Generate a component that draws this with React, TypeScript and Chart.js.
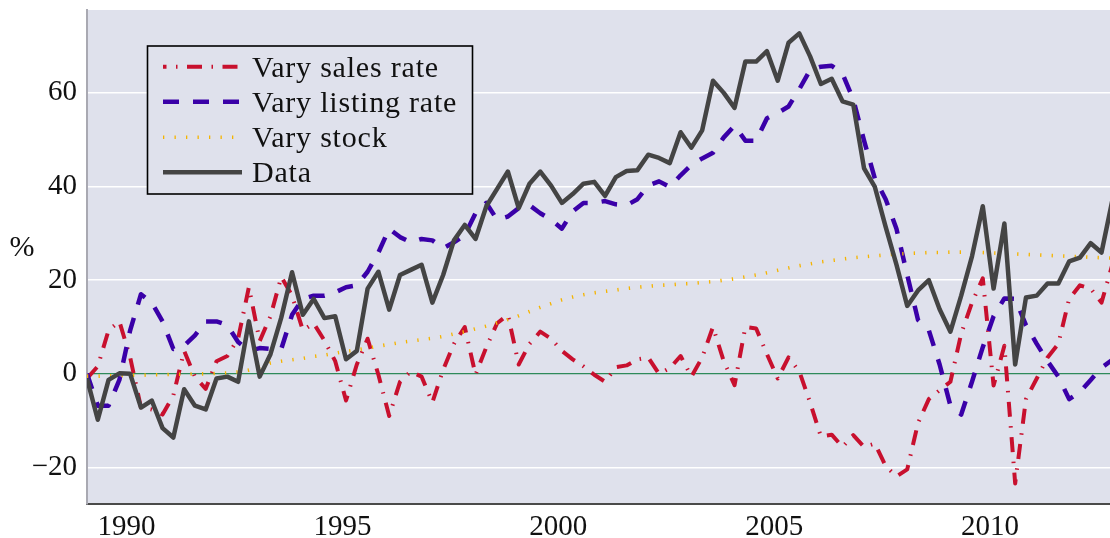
import { useEffect, useRef } from 'react';
import { Chart, registerables } from 'chart.js';
Chart.register(...registerables);

const FIRST_YEAR = 1989;
const LAST_YEAR = 2012;
const xTickYears = [1990, 1995, 2000, 2005, 2010];
const yTickValues = [-20, 0, 20, 40, 60];
const seriesLabels = ['Vary sales rate', 'Vary listing rate', 'Vary stock', 'Data'];

// quarterly values, one row per year (Q1..Q4)
const salesRate = [
  -1, 1.6, 9.3, 11.2,
  3.5, -7.2, -7.6, -8.7,
  -4.6, 4.9, -0.6, -3.2,
  2.7, 3.8, 7.5, 18.5,
  7, 12.3, 20.7, 16.7,
  9.3, 10.8, 7.1, 2.7,
  -5.7, 2, 7.5, -0.2,
  -9, -1.7, 0.5, -0.6,
  -6.1, 0.9, 6.4, 10,
  -0.2, 5.7, 10.8, 12.6,
  2, 6.4, 9, 7.5,
  4.9, 3.1, 1.6, -0.2,
  -1.7, 1.4, 1.8, 3.1,
  3.5, 0, 1.2, 3.8,
  -0.6, 3.5, 10, 2.7,
  -2.4, 10, 9.7, 4.2,
  -1, 3.5, 0.5, -6.1,
  -13.4, -13, -15.6, -13.1,
  -15.6, -14.9, -19.7, -21.9,
  -20.4, -10.5, -5.4, -3.5,
  -1.7, 8.6, 15.2, 20.4,
  -2.5, 6, -23.4, -5.4,
  -1, 3.5, 6.4, 16,
  18.9, 18.2, 15.2, 23.3,
];

const listingRate = [
  0, -6.8, -6.8, -1.3,
  9.3, 17, 15.2, 11.2,
  5.3, 6, 8.2, 11.2,
  11.2, 10.4, 6.8, 4.9,
  5.5, 5.3, 5.3, 12.6,
  16, 16.7, 16.7, 17.4,
  18.5, 18.9, 21.8, 25.9,
  31, 29.2, 28.1, 28.8,
  28.5, 26.8, 28.1, 29.6,
  34.3, 36.5, 32.9, 33.6,
  35.4, 36, 34.3, 32.9,
  31, 34.7, 36.5, 36.5,
  36.9, 36.2, 36, 37.3,
  40.2, 41.1, 39.9, 42.4,
  44.6, 46, 47.2, 50.5,
  53, 49.8, 49.8, 54.6,
  55.7, 57.1, 60.8, 64.9,
  65.6, 65.8, 64.1, 58.6,
  49.8, 41.7, 37.3, 31,
  21.1, 11.5, 9.3, 2,
  -6.8, -8.7, -1.7, 5.7,
  12.3, 16.1, 16, 10.4,
  6.4, 2.7, -0.6, -5.4,
  -3.9, -1.3, 1.3, 3,
];

const stock = [
  -0.5, -0.5, -0.4, -0.4,
  -0.3, -0.3, -0.2, -0.2,
  -0.1, -0.1, 0, 0,
  0.1, 0.2, 0.4, 0.8,
  1.5, 2.3, 2.7, 3.0,
  3.3, 3.7, 4.0, 4.4,
  4.8, 5.1, 5.5, 5.9,
  6.3, 6.7, 7.0, 7.3,
  7.6, 8.0, 8.5, 9.0,
  9.6, 10.2, 10.9, 11.6,
  12.4, 13.3, 14.2, 15.0,
  15.8, 16.4, 16.9, 17.3,
  17.6, 17.9, 18.2, 18.5,
  18.7, 18.9, 19.0, 19.2,
  19.3, 19.5, 19.7, 20.0,
  20.3, 20.7, 21.1, 21.6,
  22.1, 22.6, 23.1, 23.5,
  23.9, 24.2, 24.5, 24.8,
  25.0, 25.2, 25.4, 25.6,
  25.7, 25.8, 25.9, 25.9,
  26.0, 26.0, 26.0, 25.9,
  25.8, 25.7, 25.6, 25.5,
  25.4, 25.3, 25.2, 25.1,
  25.0, 24.9, 24.8, 24.7,
];

const observed = [
  -1, -9.8, -1.3, 0.1,
  0, -7.2, -5.7, -11.6,
  -13.6, -3.3, -6.8, -7.6,
  -1, -0.6, -1.7, 11.2,
  -0.6, 4.2, 12, 21.7,
  12.6, 16, 11.9, 12.3,
  3.1, 4.9, 18.2, 21.8,
  13.7, 21.1, 22.2, 23.3,
  15.2, 21.1, 28.5, 31.8,
  28.8, 35.8, 39.5, 43.2,
  35.4, 40.6, 43.2, 40.2,
  36.5, 38.4, 40.6, 41,
  38, 42, 43.3, 43.5,
  46.8, 46.1, 45, 51.6,
  48.3, 52, 62.6, 60,
  56.8, 66.7, 66.7, 68.9,
  62.6, 70.7, 72.7, 67.8,
  61.9, 63, 58.2, 57.5,
  43.9, 39.9, 31.4, 23.3,
  14.5, 17.8, 20, 13.8,
  9, 16.7, 25.1, 35.8,
  18.2, 32.1, 2, 16.3,
  16.7, 19.3, 19.3, 24,
  24.8, 27.9, 25.9, 37,
];

// mid-quarter dates (Feb, May, Aug, Nov)
const quarterDates = Array.from({ length: (LAST_YEAR - FIRST_YEAR + 1) * 4 }, (_, i) => FIRST_YEAR + 1 / 12 + i / 4);

const FONT = "'Liberation Serif', 'Times New Roman', serif";
const BG = '#dfe1ec';
const RED = '#c8102e';
const BLUE = '#3a00a8';
const ORANGE = '#f5b400';
const GRAY = '#444444';

const styles = [
  { color: RED, width: 4, dash: [15, 9.5, 1.5, 9.5] },
  { color: BLUE, width: 4.5, dash: [16, 14] },
  { color: ORANGE, width: 3.6, dash: [1.3, 10.2] },
  { color: GRAY, width: 4.5, dash: [] as number[] },
];

const seriesValues = [salesRate, listingRate, stock, observed];

const bgPlugin = {
  id: 'plotBg',
  beforeDraw(chart: any) {
    const { ctx, chartArea } = chart;
    ctx.save();
    ctx.fillStyle = BG;
    ctx.fillRect(chartArea.left, chartArea.top, chartArea.right - chartArea.left, chartArea.bottom - chartArea.top);
    ctx.restore();
  },
};

const legendPlugin = {
  id: 'boxLegend',
  afterDatasetsDraw(chart: any) {
    const { ctx } = chart;
    const x0 = 147.5, y0 = 46, w = 325, h = 148;
    ctx.save();
    ctx.fillStyle = BG;
    ctx.fillRect(x0, y0, w, h);
    ctx.strokeStyle = '#000';
    ctx.lineWidth = 1.6;
    ctx.strokeRect(x0, y0, w, h);
    const rows = [66.7, 101.7, 137.3, 172.3];
    seriesLabels.forEach((label, i) => {
      const s = styles[i];
      ctx.beginPath();
      ctx.strokeStyle = s.color;
      ctx.lineWidth = s.width;
      ctx.lineCap = 'butt';
      ctx.setLineDash(s.dash);
      ctx.lineDashOffset = i === 0 ? 11.5 : 0;
      ctx.moveTo(163, rows[i]);
      ctx.lineTo(242, rows[i]);
      ctx.stroke();
      ctx.setLineDash([]);
      ctx.fillStyle = '#111';
      ctx.font = `30px ${FONT}`;
      (ctx as any).letterSpacing = '0.8px';
      ctx.textAlign = 'left';
      ctx.textBaseline = 'alphabetic';
      ctx.fillText(label, 252, rows[i] + 10);
      (ctx as any).letterSpacing = '0px';
    });
    ctx.restore();
  },
};

const percentPlugin = {
  id: 'percentLabel',
  afterDraw(chart: any) {
    const { ctx } = chart;
    ctx.save();
    ctx.fillStyle = '#111';
    ctx.font = `30px ${FONT}`;
    ctx.textAlign = 'center';
    ctx.textBaseline = 'middle';
    ctx.fillText('%', 22, 248);
    ctx.restore();
  },
};

export default function App() {
  const ref = useRef<HTMLCanvasElement | null>(null);
  useEffect(() => {
    if (!ref.current) return;
    const chart = new Chart(ref.current, {
      type: 'line',
      data: {
        datasets: seriesLabels.map((label, i) => ({
          label,
          data: quarterDates.map((x, j) => ({ x, y: seriesValues[i][j] })),
          borderColor: styles[i].color,
          borderWidth: styles[i].width,
          borderDash: styles[i].dash,
          borderCapStyle: 'butt',
          borderJoinStyle: 'round',
          pointRadius: 0,
          tension: 0,
          fill: false,
          order: 4 - i,
        })),
      },
      options: {
        animation: false,
        responsive: false,
        maintainAspectRatio: false,
        layout: { padding: { top: 10, right: 0, left: 0, bottom: 0 } },
        plugins: { legend: { display: false }, tooltip: { enabled: false } },
        scales: {
          x: {
            type: 'linear',
            min: FIRST_YEAR + 1 / 12,
            max: 2012.78,
            afterBuildTicks: (scale: any) => {
              scale.ticks = xTickYears.map((v) => ({ value: v }));
            },
            afterFit: (scale: any) => {
              scale.height = 34;
              scale.paddingLeft = 0;
              scale.paddingRight = 0;
            },
            grid: { display: false, drawTicks: false },
            border: { display: true, color: '#4a4a4a', width: 2 },
            ticks: {
              color: '#111',
              font: { family: FONT, size: 29 },
              padding: 6,
              maxRotation: 0,
              callback: (v: any) => String(v),
            },
          },
          y: {
            type: 'linear',
            min: -27.8,
            max: 77.7,
            afterBuildTicks: (scale: any) => {
              scale.ticks = yTickValues.map((v) => ({ value: v }));
            },
            afterFit: (scale: any) => {
              scale.width = 87;
              scale.paddingTop = 0;
              scale.paddingBottom = 0;
            },
            grid: {
              color: (c: any) => (c.tick && c.tick.value === 0 ? '#2e8a5a' : '#ffffff'),
              lineWidth: (c: any) => (c.tick && c.tick.value === 0 ? 1.3 : 1.5),
              drawTicks: false,
            },
            border: { display: true, color: '#a9a9b2', width: 2 },
            ticks: {
              color: '#111',
              font: { family: FONT, size: 29 },
              padding: 10,
              callback: (v: any) => (v < 0 ? '\u2212' + Math.abs(v) : String(v)),
            },
          },
        },
      },
      plugins: [bgPlugin, legendPlugin, percentPlugin],
    } as any);
    return () => chart.destroy();
  }, []);
  return (
    <div style={{ position: 'absolute', left: 0, top: 0, width: 1110, height: 538, background: '#fff' }}>
      <canvas ref={ref} width={1110} height={538} style={{ display: 'block' }} />
    </div>
  );
}
